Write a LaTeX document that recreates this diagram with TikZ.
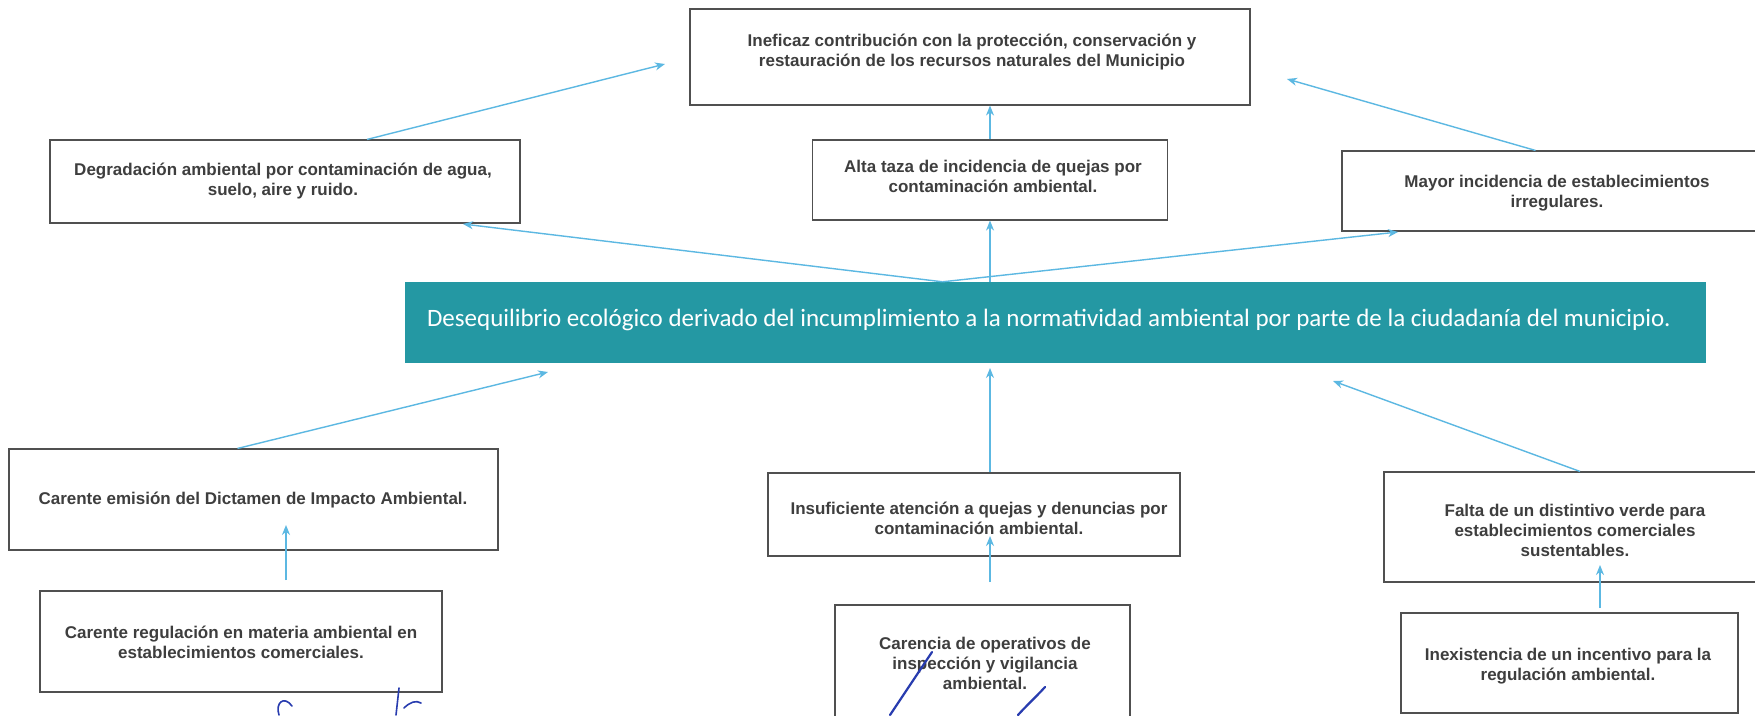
\documentclass[tikz,border=0pt]{standalone}
\usepackage{fontspec}
\newfontfamily\arialf{Liberation Sans}
\newfontfamily\calibf{Carlito}
\usetikzlibrary{arrows.meta,calc}
\definecolor{tealbar}{RGB}{36,152,163}
\definecolor{arrblue}{RGB}{92,184,226}
\definecolor{boxgray}{RGB}{80,80,80}
\definecolor{txtgray}{RGB}{62,62,62}
\definecolor{inkblue}{RGB}{40,60,175}
\begin{document}
\begin{tikzpicture}[x=1pt,y=-1pt,
 box/.style={draw=boxgray, line width=1.1pt, rectangle, inner sep=0pt},
 txt/.style={align=center, font=\arialf\bfseries\fontsize{17}{20}\selectfont, text=txtgray, inner sep=0pt},
 arr/.style={draw=arrblue, line width=1.4pt, -{Stealth[length=10pt,width=8pt]}},
 ink/.style={draw=inkblue, line width=2.2pt, line cap=round}]
\useasboundingbox (0,0) rectangle (1755,715);
\clip (0,0) rectangle (1755,715);
\fill[white] (0,0) rectangle (1755,715);

% boxes
\node[box, minimum width=560pt, minimum height=96pt] (T) at (970,57) {};
\node[txt] (Tt) at (972,52) {Ineficaz contribución con la protección, conservación y\\restauración de los recursos naturales del Municipio};

\node[box, minimum width=470pt, minimum height=83pt] (D) at (285,181.5) {};
\node[txt] (Dt) at (283,181) {Degradación ambiental por contaminación de agua,\\suelo, aire y ruido.};

\node[box, minimum width=355pt, minimum height=80pt] (A) at (990,180) {};
\node[txt] (At) at (993,176) {Alta taza de incidencia de quejas por\\contaminación ambiental.};

\node[box, minimum width=423pt, minimum height=80pt] (M) at (1553.5,191) {};
\node[txt] (Mt) at (1557,193) {Mayor incidencia de establecimientos\\irregulares.};

\node[rectangle, fill=tealbar, minimum width=1301pt, minimum height=81pt, inner sep=0pt] (C) at (1055.5,322.5) {};
\node[font=\calibf\fontsize{25}{28}\selectfont, text=white, inner sep=0pt] (Ct) at (1049,320) {Desequilibrio ecológico derivado del incumplimiento a la normatividad ambiental por parte de la ciudadanía del municipio.};

\node[box, minimum width=489pt, minimum height=101pt] (E) at (253.5,499.5) {};
\node[txt] (Et) at (253,500) {Carente emisión del Dictamen de Impacto Ambiental.};

\node[box, minimum width=412pt, minimum height=83pt] (I) at (974,514.5) {};
\node[txt] (It) at (979,518) {Insuficiente atención a quejas y denuncias por\\contaminación ambiental.};

\node[box, minimum width=381pt, minimum height=110pt] (F) at (1574.5,527) {};
\node[txt] (Ft) at (1575,530) {Falta de un distintivo verde para\\establecimientos comerciales\\sustentables.};

\node[box, minimum width=402pt, minimum height=101pt] (R) at (241,641.5) {};
\node[txt] (Rt) at (241,642) {Carente regulación en materia ambiental en\\establecimientos comerciales.};

\node[box, minimum width=295pt, minimum height=125pt] (K) at (982.5,667.5) {};
\node[txt] (Kt) at (985,663) {Carencia de operativos de\\inspección y vigilancia\\ambiental.};

\node[box, minimum width=337pt, minimum height=100pt] (N) at (1569.5,663) {};
\node[txt] (Nt) at (1568,666) {Inexistencia de un incentivo para la\\regulación ambiental.};

% connector points
\coordinate (dS) at ([xshift=82pt]D.north);
\coordinate (tipDT) at (665,64);
\coordinate (mS) at ([xshift=-18pt]M.north);
\coordinate (tipMT) at (1287,79);
\coordinate (cS) at ([xshift=-113pt]C.north);
\coordinate (tipCD) at (463,224);
\coordinate (tipCM) at (1398,232);
\coordinate (eS) at ([xshift=-16pt]E.north);
\coordinate (tipEC) at (548,372);
\coordinate (rS) at (286,580);
\coordinate (tipRE) at (286,525);
\coordinate (tipIC) at (990,368);
\coordinate (kS) at (990,582);
\coordinate (tipKI) at (990,536);
\coordinate (fS) at ([xshift=5.5pt]F.north);
\coordinate (tipFC) at (1333,381);
\coordinate (nS) at (1600,608);
\coordinate (tipNF) at (1600,565);

% connectors
\draw[arr] (dS) -- (tipDT);
\draw[arr] (A.north) -- (A.north |- T.south);
\draw[arr] (mS) -- (tipMT);
\draw[arr] (cS) -- (tipCD);
\draw[arr] (cS) -- (tipCM);
\draw[arr] (A.south |- C.north) -- (A.south);
\draw[arr] (eS) -- (tipEC);
\draw[arr] (rS) -- (tipRE);
\draw[arr] (I.north -| A.south) -- (tipIC);
\draw[arr] (kS) -- (tipKI);
\draw[arr] (fS) -- (tipFC);
\draw[arr] (nS) -- (tipNF);

% handwritten signature strokes
\draw[ink, line width=1.6pt] (279,715) .. controls (275,703) and (284,695) .. (292,706);
\draw[ink, line width=1.6pt] (399,688) -- (396,715);
\draw[ink, line width=1.6pt] (404,708) .. controls (410,702) and (416,700) .. (421,703);
\draw[ink] (932,652) -- (890,715);
\draw[ink] (1045,687) .. controls (1035,698) and (1026,706) .. (1018,715);
\end{tikzpicture}
\end{document}
